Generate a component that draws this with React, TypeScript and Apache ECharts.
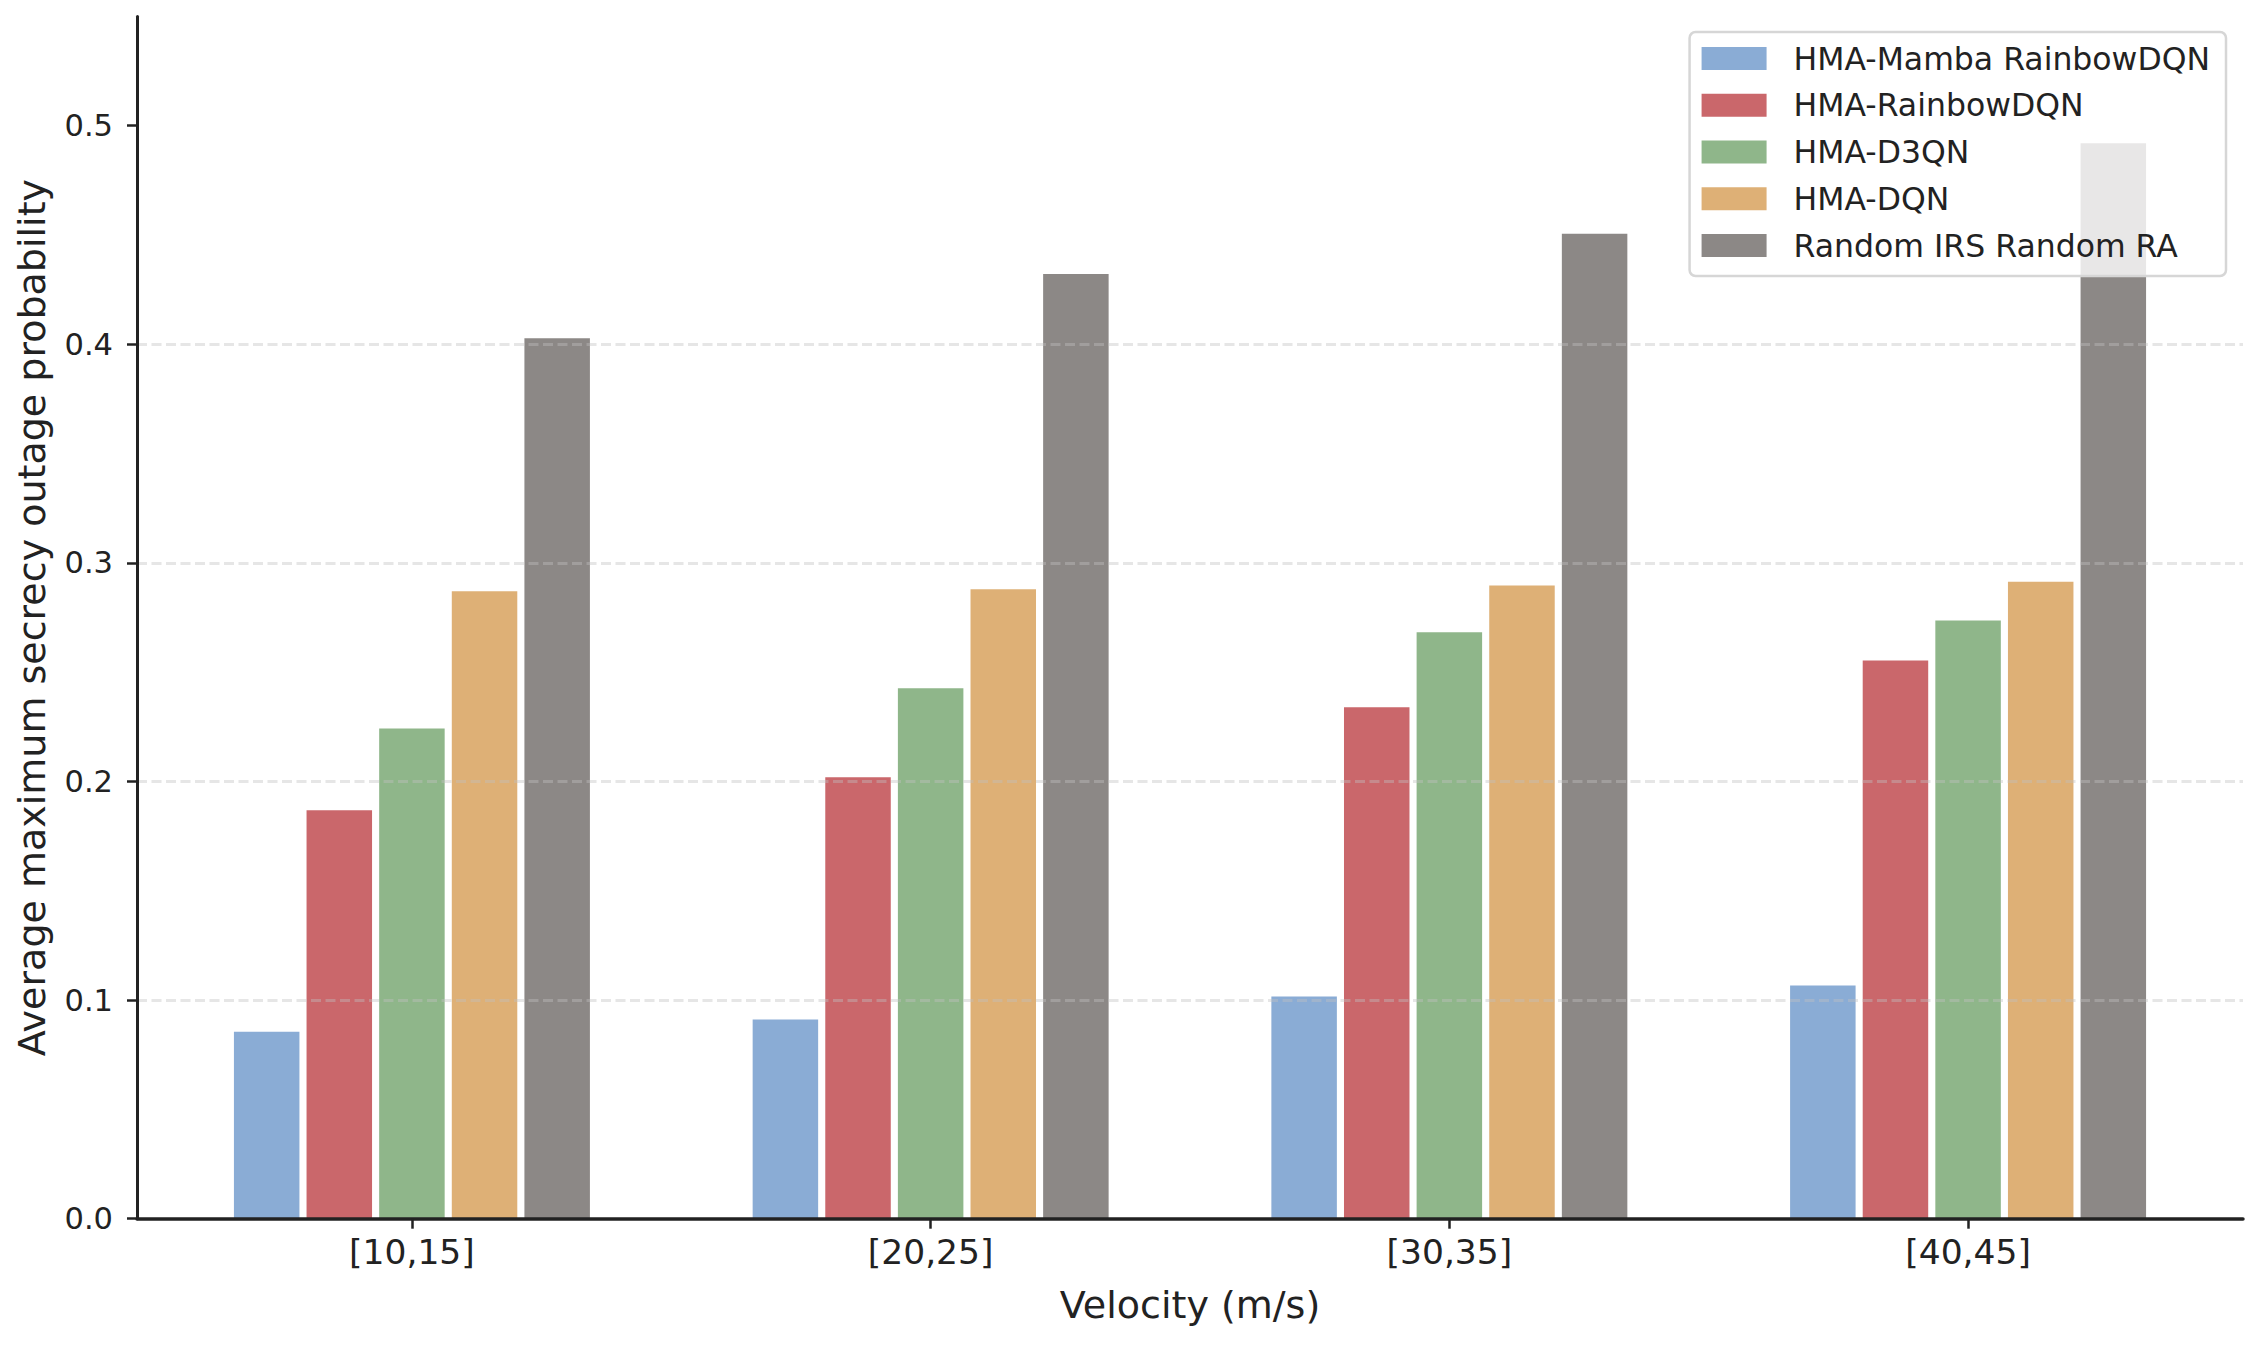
import React, { useEffect, useRef } from "react";
import * as echarts from "echarts";

const categories = ["[10,15]", "[20,25]", "[30,35]", "[40,45]"];
const seriesNames = [
  "HMA-Mamba RainbowDQN",
  "HMA-RainbowDQN",
  "HMA-D3QN",
  "HMA-DQN",
  "Random IRS Random RA",
];
const mambaRainbowDQN = [0.0855, 0.0911, 0.1016, 0.1067];
const rainbowDQN = [0.1868, 0.2019, 0.234, 0.2553];
const d3qn = [0.2242, 0.2427, 0.2683, 0.2737];
const dqn = [0.287, 0.2879, 0.2897, 0.2914];
const randomIRS = [0.4028, 0.4322, 0.4506, 0.492];
const yTicks = [0, 0.1, 0.2, 0.3, 0.4, 0.5];
const colors = ["#8AACD5", "#CA676B", "#8FB68A", "#DEB076", "#8C8886"];

const seriesValues = [mambaRainbowDQN, rainbowDQN, d3qn, dqn, randomIRS];
const BAR_STEP = 0.14;
const TEXT = "#222222";
const FONT = "DejaVu Sans";

export default function App() {
  const ref = useRef<HTMLDivElement>(null);
  useEffect(() => {
    if (!ref.current) return;
    const chart = echarts.init(ref.current, undefined, { renderer: "svg" });
    const n = seriesValues.length;
    const series = seriesValues.map((vals, si) => ({
      type: "bar",
      name: seriesNames[si],
      barWidth: 65.5,
      barGap: "-100%",
      z: 2,
      itemStyle: { color: colors[si] },
      data: vals.map((v, ci) => [ci + (si - (n - 1) / 2) * BAR_STEP, v]),
    }));
    chart.setOption({
      animation: false,
      backgroundColor: "#ffffff",
      textStyle: { fontFamily: FONT },
      grid: { left: 137, right: 16, top: 16.4, bottom: 127.3, containLabel: false },
      legend: {
        orient: "vertical",
        right: 33,
        top: 32,
        icon: "rect",
        itemWidth: 65,
        itemHeight: 23,
        itemGap: 14.75,
        padding: [10.5, 16, 14.5, 12],
        backgroundColor: "rgba(255,255,255,0.8)",
        borderColor: "#d6d6d6",
        borderWidth: 2.5,
        borderRadius: 6,
        z: 10,
        textStyle: {
          fontFamily: FONT,
          fontSize: 31.5,
          color: TEXT,
          padding: [0, 0, 0, 22],
        },
        data: seriesNames,
      },
      xAxis: {
        type: "value",
        min: -0.53,
        max: 3.53,
        z: 3,
        name: "Velocity (m/s)",
        nameLocation: "middle",
        nameGap: 64,
        nameTextStyle: { fontFamily: FONT, fontSize: 38, color: TEXT, lineHeight: 44 },
        axisLine: { show: true, onZero: false, lineStyle: { color: TEXT, width: 3.5 } },
        axisTick: {
          show: true,
          length: 10,
          customValues: [0, 1, 2, 3],
          lineStyle: { color: TEXT, width: 2.5 },
        },
        axisLabel: {
          customValues: [0, 1, 2, 3],
          fontFamily: FONT,
          fontSize: 34.5,
          color: TEXT,
          margin: 16,
          formatter: (v: number) => categories[Math.round(v)] ?? "",
        },
        splitLine: { show: false },
      },
      yAxis: {
        type: "value",
        min: 0,
        max: 0.55,
        interval: 0.1,
        z: 3,
        name: "Average maximum secrecy outage probability",
        nameLocation: "middle",
        nameGap: 82,
        nameTextStyle: { fontFamily: FONT, fontSize: 38, color: TEXT, lineHeight: 44 },
        axisLine: { show: true, onZero: false, lineStyle: { color: TEXT, width: 3 } },
        axisTick: {
          show: true,
          length: 10,
          customValues: yTicks,
          lineStyle: { color: TEXT, width: 2.5 },
        },
        axisLabel: {
          customValues: yTicks,
          fontFamily: FONT,
          fontSize: 30.5,
          color: TEXT,
          margin: 24,
          formatter: (v: number) => v.toFixed(1),
        },
        splitLine: {
          show: true,
          showMinLine: false,
          showMaxLine: false,
          lineStyle: { color: "rgba(192,192,192,0.4)", width: 2.8, type: [10, 4.5] },
        },
      },
      series,
    });
    return () => chart.dispose();
  }, []);
  return (
    <div
      ref={ref}
      style={{ position: "fixed", left: 0, top: 0, width: 2259, height: 1346, background: "#fff" }}
    />
  );
}
